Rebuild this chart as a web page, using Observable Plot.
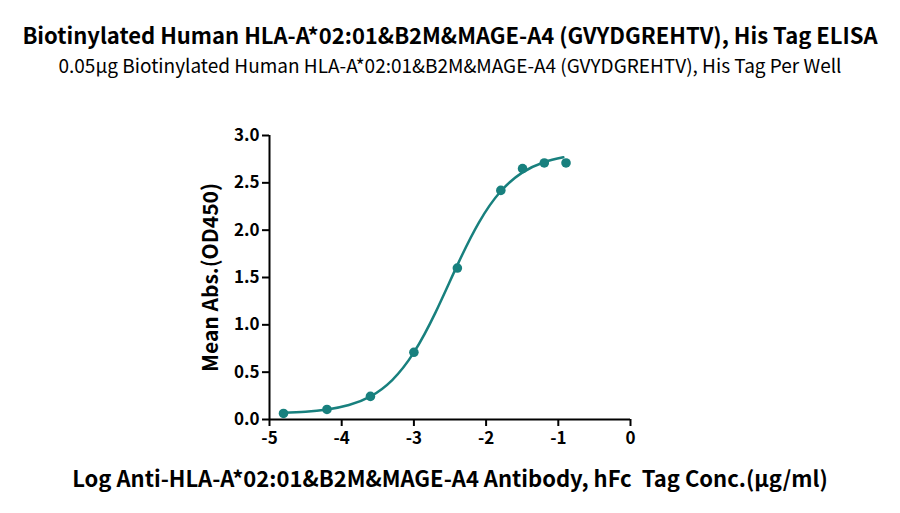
<!DOCTYPE html>
<html><head><meta charset="utf-8">
<script src="https://cdn.jsdelivr.net/npm/d3@7"></script>
<script src="https://cdn.jsdelivr.net/npm/@observablehq/plot@0.6"></script>
<style>
body{margin:0;background:#fff;}
#wrap{position:relative;width:900px;height:513px;font-family:"Noto Sans CJK SC","Noto Sans",sans-serif;}
.t{position:absolute;left:0;width:900px;text-align:center;color:#000;white-space:nowrap;line-height:1;}
#title{top:23px;font-size:22px;font-weight:bold;}
#sub{top:55px;font-size:19px;}
#xl{top:466px;font-size:22px;font-weight:bold;}
#chart{position:absolute;left:0;top:0;}
</style></head>
<body><div id="wrap">
<div id="chart"></div>
<div class="t" id="title">Biotinylated Human HLA-A*02:01&amp;B2M&amp;MAGE-A4 (GVYDGREHTV), His Tag ELISA</div>
<div class="t" id="sub">0.05μg Biotinylated Human HLA-A*02:01&amp;B2M&amp;MAGE-A4 (GVYDGREHTV), His Tag Per Well</div>
<div class="t" id="xl">Log Anti-HLA-A*02:01&amp;B2M&amp;MAGE-A4 Antibody, hFc&nbsp; Tag Conc.(μg/ml)</div>
</div>
<script>
const logConc = [-4.806, -4.204, -3.602, -3.0, -2.398, -1.796, -1.495, -1.194, -0.893];
const od450 = [0.064, 0.106, 0.244, 0.71, 1.60, 2.42, 2.65, 2.71, 2.71];
const curveX = [-4.82, -4.5, -4.2, -3.9, -3.6, -3.3, -3.0, -2.7, -2.4, -2.1, -1.8, -1.5, -1.2, -0.93];
const curveY = [0.070, 0.082, 0.106, 0.153, 0.245, 0.417, 0.709, 1.132, 1.628, 2.080, 2.408, 2.608, 2.718, 2.771];
const xTicks = [-5, -4, -3, -2, -1, 0];
const yTicks = [0, 0.5, 1.0, 1.5, 2.0, 2.5, 3.0];

const pts = logConc.map((x, i) => ({x, y: od450[i]}));
const crv = curveX.map((x, i) => ({x, y: curveY[i]}));
const teal = "#18807e";
const ff = "'Noto Sans CJK SC', 'Noto Sans', sans-serif";

const plot = Plot.plot({
  width: 900, height: 513,
  marginLeft: 269, marginRight: 270, marginTop: 135, marginBottom: 94,
  x: {domain: [-5, 0]},
  y: {domain: [0, 3]},
  style: {fontFamily: ff, color: "#000", background: "#fff"},
  marks: [
    Plot.axisX({ticks: xTicks, tickFormat: d => String(d), tickSize: 7, tickPadding: 5, strokeWidth: 2, fontSize: 17, fontWeight: "bold", label: null}),
    Plot.axisY({ticks: yTicks, tickFormat: d => d.toFixed(1), tickSize: 7, tickPadding: 3, strokeWidth: 2, fontSize: 17, fontWeight: "bold", label: null}),
    Plot.ruleY([0], {stroke: "#000", strokeWidth: 2}),
    Plot.ruleX([-5], {stroke: "#000", strokeWidth: 2}),
    Plot.line(crv, {x: "x", y: "y", curve: "natural", stroke: teal, strokeWidth: 2.5}),
    Plot.dot(pts, {x: "x", y: "y", r: 4.8, fill: teal, stroke: "none"}),
    Plot.text(["Mean Abs.(OD450)"], {frameAnchor: "left", textAnchor: "middle", dx: -58, rotate: -90, fontSize: 21, fontWeight: "bold", text: d => d, fill: "#000"})
  ]
});
document.getElementById("chart").appendChild(plot);
</script>
</body></html>
